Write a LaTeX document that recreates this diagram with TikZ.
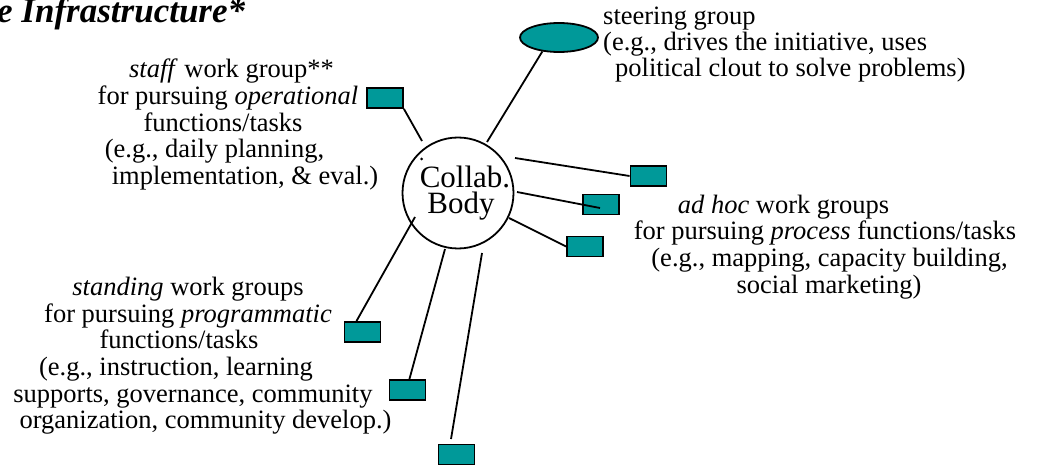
\documentclass[tikz,border=0pt]{standalone}
\usepackage{fontspec}
\setmainfont{Liberation Serif}
\usetikzlibrary{shapes.geometric}
\definecolor{tealfill}{RGB}{0,153,153}
\begin{document}
\begin{tikzpicture}[x=1pt,y=-1pt,
  lbl/.style={inner sep=0, anchor=base, font=\rmfamily\fontsize{26.5}{26.6}\selectfont},
  lbll/.style={lbl, anchor=base west},
  bodytext/.style={inner sep=0, anchor=base, font=\rmfamily\fontsize{31}{31}\selectfont},
  wbox/.style={draw, line width=1.8pt, fill=tealfill, minimum width=36pt, minimum height=20pt, inner sep=0},
  conn/.style={line width=1.8pt}]
\useasboundingbox (0,0) rectangle (1037,468);

% title (cut off at the left)
\node[anchor=base west, inner sep=0, font=\rmfamily\fontsize{35}{35}\selectfont\bfseries\itshape] (title) at (-3,23) {e Infrastructure*};

% central body
\node[circle, draw, line width=1.8pt, minimum size=111pt, inner sep=0] (body) at (458,193) {};
\node[bodytext] (bt1) at (465,187.5) {Collab.};
\node[bodytext] (bt2) at (461,214) {Body};
\fill (421.7,159) circle[radius=1.5pt];

% steering group
\node[ellipse, draw, line width=1.8pt, fill=tealfill, minimum width=78pt, minimum height=29pt, inner sep=0] (steer) at (559,37.5) {};
\node[lbll] (g1) at (603,25) {steering group};
\node[lbll] (g2) at (603,51) {(e.g., drives the initiative, uses};
\node[lbll] (g3) at (615,77) {political clout to solve problems)};

% staff work group
\node[lbl] (s1) at (231.5,78) {\textit{staff} work group**};
\node[lbl] (s2) at (228,105) {for pursuing \textit{operational}};
\node[lbl] (s3) at (223,132) {functions/tasks};
\node[lbl] (s4) at (214.5,158) {(e.g., daily planning,};
\node[lbl] (s5) at (245,185) {implementation, \& eval.)};

% ad hoc work groups
\node[lbl] (a1) at (783.5,214) {\textit{ad hoc} work groups};
\node[lbl] (a2) at (825,240) {for pursuing \textit{process} functions/tasks};
\node[lbl] (a3) at (829.5,266.5) {(e.g., mapping, capacity building,};
\node[lbl] (a4) at (829,293) {social marketing)};

% standing work groups
\node[lbl] (p1) at (188,295) {\textit{standing} work groups};
\node[lbl] (p2) at (188,322) {for pursuing \textit{programmatic}};
\node[lbl] (p3) at (179,348) {functions/tasks};
\node[lbl] (p4) at (176,375) {(e.g., instruction, learning};
\node[lbl] (p5) at (193,402) {supports, governance, community};
\node[lbl] (p6) at (205.5,428) {organization, community develop.)};

% boxes
\node[wbox] (sbox) at (385,98) {};
\node[wbox] (rbox1) at (648.5,176) {};
\node[wbox] (rbox2) at (601,204.5) {};
\node[wbox] (rbox3) at (585,246.5) {};
\node[wbox] (pbox1) at (362.5,332) {};
\node[wbox] (pbox2) at (407.5,390) {};
\node[wbox] (pbox3) at (456.5,454.5) {};

% free ends of connectors
\coordinate (cA) at (422,141);
\coordinate (cB) at (487,142);
\coordinate (cC) at (515,158);
\coordinate (cD) at (517,192);
\coordinate (cD2) at (600,208);
\coordinate (cE) at (509,218);
\coordinate (cF) at (415,217);
\coordinate (cG) at (445,249);
\coordinate (cH) at (482,253);
\coordinate (cH2) at (451,439);

% connectors
\draw[conn] (sbox.south east) -- (cA);
\draw[conn] (steer.220) -- (cB);
\draw[conn] (cC) -- (rbox1.west);
\draw[conn] (cD) -- (cD2);
\draw[conn] (cE) -- (rbox3.west);
\draw[conn] (cF) -- (pbox1.119);
\draw[conn] (cG) -- (pbox2.80);
\draw[conn] (cH) -- (cH2);
\end{tikzpicture}
\end{document}
